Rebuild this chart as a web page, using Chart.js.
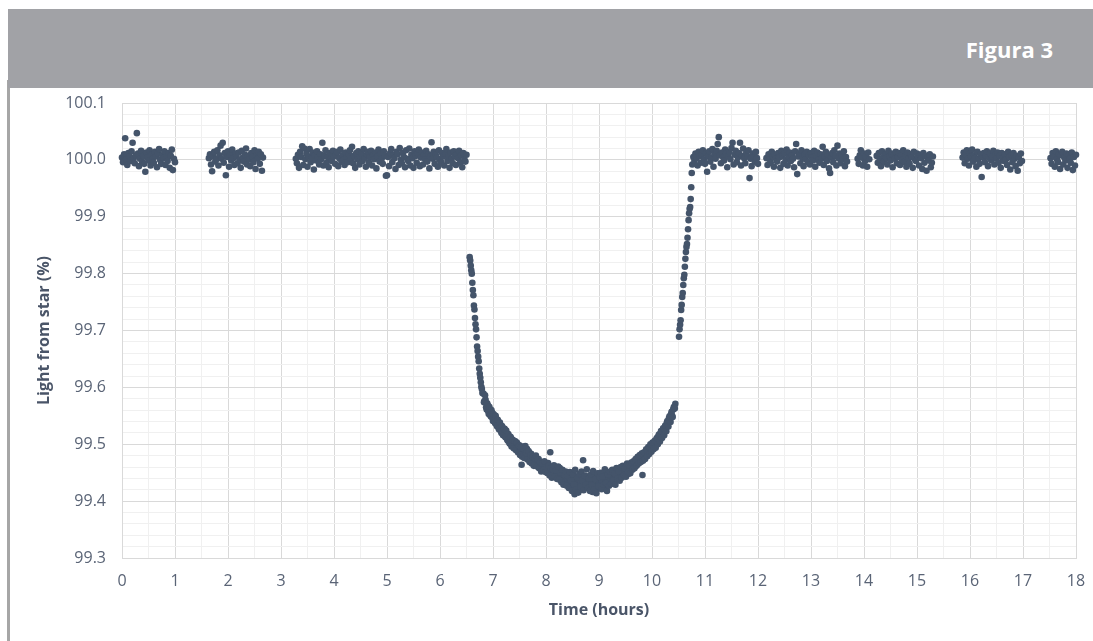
<!DOCTYPE html>
<html>
<head>
<meta charset="utf-8">
<script src="https://cdn.jsdelivr.net/npm/chart.js@4/dist/chart.umd.min.js"></script>
<style>
  html, body { margin: 0; padding: 0; background: #ffffff; }
  #wrap { position: relative; width: 1093px; height: 641px; overflow: hidden; }
  #band { position: absolute; left: 8px; top: 9px; width: 1085px; height: 79px; background: #a1a2a6; z-index: 2; }
  #band span { position: absolute; right: 40px; top: 29px; line-height: 22px; color: #ffffff;
               font-family: "Open Sans", Lato, sans-serif; font-weight: bold; font-size: 22px; }
  #rule { position: absolute; left: 7px; top: 80px; width: 3px; height: 561px; background: #a6a6a6; z-index: 1; }
  #chart { position: absolute; left: 0; top: 0; }
</style>
</head>
<body>
<div id="wrap">
  <div id="rule"></div>
  <div id="band"><span>Figura 3</span></div>
  <canvas id="chart" width="1093" height="641"></canvas>
</div>
<script>
// Tick labels
const xTickLabels = ['0','1','2','3','4','5','6','7','8','9','10','11','12','13','14','15','16','17','18'];
const yTickLabels = ['99.3','99.4','99.5','99.6','99.7','99.8','99.9','100.0','100.1'];

// Observing run 1
const run1Hours = [
  0.00,0.02,0.04,0.06,0.08,0.10,0.12,0.14,0.16,0.18,
  0.20,0.22,0.24,0.26,0.28,0.30,0.32,0.34,0.36,0.38,
  0.40,0.42,0.44,0.46,0.48,0.50,0.52,0.54,0.56,0.58,
  0.60,0.62,0.64,0.66,0.68,0.70,0.72,0.74,0.76,0.78,
  0.80,0.82,0.84,0.86,0.88,0.90,0.92,0.94,0.96,0.98,
  1.00];
const run1Light = [
  100.004,99.996,100.010,100.038,100.001,99.991,100.012,100.006,99.998,100.015,
  100.030,100.003,99.994,100.008,100.047,100.011,99.989,100.002,100.016,99.997,
  100.007,99.993,99.979,100.013,100.004,99.999,100.017,99.990,100.009,100.002,
  99.995,100.014,100.006,99.987,100.011,100.019,100.000,99.993,100.008,100.003,
  100.015,99.991,100.005,99.998,100.012,99.986,100.007,100.018,99.982,100.002,
  99.996];

// Observing run 2
const run2Hours = [
  1.64,1.66,1.68,1.70,1.72,1.74,1.76,1.78,1.80,1.82,
  1.84,1.86,1.88,1.90,1.92,1.94,1.96,1.98,2.00,2.02,
  2.04,2.06,2.08,2.10,2.12,2.14,2.16,2.18,2.20,2.22,
  2.24,2.26,2.28,2.30,2.32,2.34,2.36,2.38,2.40,2.42,
  2.44,2.46,2.48,2.50,2.52,2.54,2.56,2.58,2.60,2.62,
  2.64,2.66];
const run2Light = [
  100.003,100.010,99.992,99.980,100.006,100.014,99.997,100.001,100.017,99.990,
  100.008,100.025,100.002,100.030,99.995,100.012,99.973,100.005,100.015,99.988,
  100.009,99.999,100.018,100.003,99.991,100.011,100.006,99.994,100.013,100.000,
  99.986,100.016,100.004,99.997,100.009,100.020,99.992,100.007,100.001,99.989,
  100.012,100.005,99.996,100.017,99.984,100.008,100.002,100.014,99.993,100.010,
  99.981,100.004];

// Observing run 3 (up to the start of the transit)
const run3Hours = [
  3.28,3.30,3.32,3.34,3.36,3.38,3.40,3.42,3.44,3.46,
  3.48,3.50,3.52,3.54,3.56,3.58,3.60,3.62,3.64,3.66,
  3.68,3.70,3.72,3.74,3.76,3.78,3.80,3.82,3.84,3.86,
  3.88,3.90,3.92,3.94,3.96,3.98,4.00,4.02,4.04,4.06,
  4.08,4.10,4.12,4.14,4.16,4.18,4.20,4.22,4.24,4.26,
  4.28,4.30,4.32,4.34,4.36,4.38,4.40,4.42,4.44,4.46,
  4.48,4.50,4.52,4.54,4.56,4.58,4.60,4.62,4.64,4.66,
  4.68,4.70,4.72,4.74,4.76,4.78,4.80,4.82,4.84,4.86,
  4.88,4.90,4.92,4.94,4.96,4.98,5.00,5.02,5.04,5.06,
  5.08,5.10,5.12,5.14,5.16,5.18,5.20,5.22,5.24,5.26,
  5.28,5.30,5.32,5.34,5.36,5.38,5.40,5.42,5.44,5.46,
  5.48,5.50,5.52,5.54,5.56,5.58,5.60,5.62,5.64,5.66,
  5.68,5.70,5.72,5.74,5.76,5.78,5.80,5.82,5.84,5.86,
  5.88,5.90,5.92,5.94,5.96,5.98,6.00,6.02,6.04,6.06,
  6.08,6.10,6.12,6.14,6.16,6.18,6.20,6.22,6.24,6.26,
  6.28,6.30,6.32,6.34,6.36,6.38,6.40,6.42,6.44,6.46,
  6.48,6.50];
const run3Light = [
  100.002,99.994,100.009,99.986,100.014,100.005,100.024,99.991,100.020,100.001,
  100.011,99.988,100.006,100.019,99.996,100.003,100.013,99.983,100.008,99.999,
  100.015,100.004,99.992,100.010,100.001,100.030,99.990,100.007,100.017,99.995,
  100.005,99.987,100.012,100.002,99.998,100.016,100.006,99.993,100.009,100.014,
  99.989,100.003,100.018,99.997,100.008,100.000,99.991,100.013,100.004,99.996,
  100.010,100.017,100.002,100.023,99.994,100.007,99.986,100.012,100.001,100.015,
  99.992,100.006,100.011,99.998,100.019,100.003,99.988,100.009,100.014,99.995,
  100.004,100.016,99.990,100.008,100.001,100.013,99.985,100.006,100.018,99.997,
  100.011,100.002,99.993,100.015,100.007,99.972,99.973,100.005,99.989,100.012,
  100.019,99.996,100.008,100.003,99.984,100.014,100.010,99.991,100.021,100.000,
  99.994,100.012,100.005,99.987,100.017,100.002,99.998,100.020,99.990,100.009,
  100.003,99.986,100.015,100.007,99.995,100.011,100.018,99.989,100.004,100.013,
  99.992,100.008,100.001,100.016,99.997,100.010,99.985,100.006,100.031,100.002,
  100.014,99.993,100.009,100.004,99.988,100.017,100.000,99.996,100.012,100.006,
  99.990,100.011,100.019,99.998,100.005,99.986,100.013,100.002,99.994,100.015,
  100.007,99.991,100.010,100.003,100.016,99.995,100.008,99.987,100.012,100.001,
  99.997,100.009];

// Transit: ingress
const ingressHours = [
  6.56,6.57,6.58,6.59,6.60,6.61,6.62,6.63,6.64,6.65,
  6.66,6.67,6.68,6.69,6.70,6.71,6.72,6.73,6.74,6.75,
  6.76,6.77,6.78,6.79,6.80];
const ingressLight = [
  99.829,99.823,99.814,99.806,99.800,99.784,99.771,99.762,99.744,99.737,
  99.722,99.711,99.702,99.688,99.672,99.664,99.654,99.646,99.633,99.624,
  99.617,99.609,99.601,99.597,99.590];

// Transit: bottom of the dip, even exposures
const transitHours = [
  6.82,6.84,6.86,6.88,6.90,6.92,6.94,6.96,6.98,7.00,
  7.02,7.04,7.06,7.08,7.10,7.12,7.14,7.16,7.18,7.20,
  7.22,7.24,7.26,7.28,7.30,7.32,7.34,7.36,7.38,7.40,
  7.42,7.44,7.46,7.48,7.50,7.52,7.54,7.56,7.58,7.60,
  7.62,7.64,7.66,7.68,7.70,7.72,7.74,7.76,7.78,7.80,
  7.82,7.84,7.86,7.88,7.90,7.92,7.94,7.96,7.98,8.00,
  8.02,8.04,8.06,8.08,8.10,8.12,8.14,8.16,8.18,8.20,
  8.22,8.24,8.26,8.28,8.30,8.32,8.34,8.36,8.38,8.40,
  8.42,8.44,8.46,8.48,8.50,8.52,8.54,8.56,8.58,8.60,
  8.62,8.64,8.66,8.68,8.70,8.72,8.74,8.76,8.78,8.80,
  8.82,8.84,8.86,8.88,8.90,8.92,8.94,8.96,8.98,9.00,
  9.02,9.04,9.06,9.08,9.10,9.12,9.14,9.16,9.18,9.20,
  9.22,9.24,9.26,9.28,9.30,9.32,9.34,9.36,9.38,9.40,
  9.42,9.44,9.46,9.48,9.50,9.52,9.54,9.56,9.58,9.60,
  9.62,9.64,9.66,9.68,9.70,9.72,9.74,9.76,9.78,9.80,
  9.82,9.84,9.86,9.88,9.90,9.92,9.94,9.96,9.98,10.00,
  10.02,10.04,10.06,10.08,10.10,10.12,10.14,10.16,10.18,10.20,
  10.22,10.24,10.26,10.28,10.30,10.32,10.34,10.36,10.38,10.40,
  10.42,10.44];
const transitLight = [
  99.589,99.576,99.578,99.561,99.569,99.553,99.562,99.549,99.556,99.541,
  99.551,99.537,99.545,99.531,99.540,99.526,99.534,99.520,99.529,99.518,
  99.527,99.512,99.519,99.506,99.514,99.501,99.511,99.497,99.507,99.499,
  99.505,99.493,99.501,99.490,99.498,99.485,99.464,99.496,99.483,99.491,
  99.480,99.492,99.478,99.486,99.474,99.483,99.470,99.479,99.468,99.476,
  99.470,99.464,99.474,99.461,99.468,99.457,99.466,99.463,99.455,99.465,
  99.458,99.467,99.452,99.486,99.455,99.448,99.460,99.450,99.457,99.446,
  99.453,99.444,99.458,99.447,99.439,99.451,99.442,99.436,99.449,99.440,
  99.446,99.432,99.441,99.428,99.450,99.437,99.412,99.443,99.430,99.439,
  99.427,99.444,99.433,99.420,99.472,99.431,99.445,99.426,99.436,99.429,
  99.441,99.424,99.437,99.416,99.443,99.430,99.438,99.422,99.446,99.433,
  99.428,99.440,99.434,99.447,99.425,99.438,99.443,99.431,99.446,99.435,
  99.444,99.434,99.450,99.439,99.447,99.437,99.452,99.443,99.455,99.446,
  99.453,99.445,99.457,99.449,99.461,99.452,99.458,99.448,99.463,99.455,
  99.466,99.457,99.468,99.461,99.472,99.465,99.476,99.468,99.479,99.471,
  99.446,99.482,99.475,99.486,99.480,99.491,99.484,99.495,99.488,99.498,
  99.492,99.503,99.498,99.508,99.503,99.514,99.509,99.519,99.514,99.524,
  99.519,99.530,99.527,99.538,99.535,99.546,99.543,99.553,99.550,99.561,
  99.566,99.571];

// Transit: bottom of the dip, odd exposures
const transitOddHours = [
  6.83,6.85,6.87,6.89,6.91,6.93,6.95,6.97,6.99,7.01,
  7.03,7.05,7.07,7.09,7.11,7.13,7.15,7.17,7.19,7.21,
  7.23,7.25,7.27,7.29,7.31,7.33,7.35,7.37,7.39,7.41,
  7.43,7.45,7.47,7.49,7.51,7.53,7.55,7.57,7.59,7.61,
  7.63,7.65,7.67,7.69,7.71,7.73,7.75,7.77,7.79,7.81,
  7.83,7.85,7.87,7.89,7.91,7.93,7.95,7.97,7.99,8.01,
  8.03,8.05,8.07,8.09,8.11,8.13,8.15,8.17,8.19,8.21,
  8.23,8.25,8.27,8.29,8.31,8.33,8.35,8.37,8.39,8.41,
  8.43,8.45,8.47,8.49,8.51,8.53,8.55,8.57,8.59,8.61,
  8.63,8.65,8.67,8.69,8.71,8.73,8.75,8.77,8.79,8.81,
  8.83,8.85,8.87,8.89,8.91,8.93,8.95,8.97,8.99,9.01,
  9.03,9.05,9.07,9.09,9.11,9.13,9.15,9.17,9.19,9.21,
  9.23,9.25,9.27,9.29,9.31,9.33,9.35,9.37,9.39,9.41,
  9.43,9.45,9.47,9.49,9.51,9.53,9.55,9.57,9.59,9.61,
  9.63,9.65,9.67,9.69,9.71,9.73,9.75,9.77,9.79,9.81,
  9.83,9.85,9.87,9.89,9.91,9.93,9.95,9.97,9.99,10.01,
  10.03,10.05,10.07,10.09,10.11,10.13,10.15,10.17,10.19,10.21,
  10.23,10.25,10.27,10.29,10.31,10.33,10.35,10.37,10.39,10.41,
  10.43];
const transitOddLight = [
  99.574,99.586,99.565,99.572,99.558,99.566,99.551,99.560,99.546,99.553,
  99.539,99.550,99.533,99.543,99.527,99.538,99.523,99.532,99.516,99.527,
  99.513,99.524,99.508,99.518,99.502,99.513,99.496,99.508,99.493,99.505,
  99.490,99.503,99.486,99.497,99.481,99.494,99.478,99.492,99.476,99.497,
  99.484,99.473,99.488,99.469,99.481,99.466,99.478,99.462,99.475,99.480,
  99.461,99.473,99.458,99.469,99.452,99.466,99.455,99.470,99.451,99.460,
  99.449,99.462,99.445,99.458,99.441,99.455,99.463,99.443,99.454,99.439,
  99.461,99.438,99.450,99.433,99.455,99.429,99.446,99.452,99.427,99.444,
  99.423,99.451,99.436,99.418,99.447,99.429,99.455,99.421,99.441,99.415,
  99.448,99.425,99.452,99.437,99.419,99.444,99.429,99.456,99.423,99.440,
  99.418,99.447,99.428,99.453,99.421,99.439,99.414,99.449,99.426,99.442,
  99.450,99.421,99.443,99.429,99.456,99.432,99.418,99.447,99.427,99.452,
  99.430,99.455,99.436,99.449,99.429,99.458,99.440,99.452,99.436,99.460,
  99.441,99.462,99.446,99.458,99.443,99.466,99.451,99.463,99.449,99.468,
  99.455,99.470,99.458,99.474,99.462,99.478,99.466,99.481,99.469,99.484,
  99.471,99.486,99.474,99.491,99.479,99.495,99.483,99.500,99.487,99.503,
  99.491,99.506,99.494,99.511,99.500,99.517,99.505,99.523,99.511,99.528,
  99.516,99.533,99.523,99.541,99.531,99.549,99.539,99.557,99.548,99.565,
  99.563];

// Transit: egress
const egressHours = [
  10.51,10.52,10.53,10.54,10.55,10.56,10.57,10.58,10.59,10.60,
  10.61,10.62,10.63,10.64,10.65,10.66,10.67,10.68,10.69,10.70,
  10.71,10.72,10.73,10.74,10.75];
const egressLight = [
  99.689,99.702,99.710,99.718,99.736,99.745,99.759,99.766,99.780,99.792,
  99.798,99.812,99.826,99.838,99.847,99.852,99.863,99.878,99.894,99.906,
  99.914,99.917,99.931,99.952,99.977];

// Observing run 4 (after the transit)
const run4Hours = [
  10.76,10.78,10.80,10.82,10.84,10.86,10.88,10.90,10.92,10.94,
  10.96,10.98,11.00,11.02,11.04,11.06,11.08,11.10,11.12,11.14,
  11.16,11.18,11.20,11.22,11.24,11.26,11.28,11.30,11.32,11.34,
  11.36,11.38,11.40,11.42,11.44,11.46,11.48,11.50,11.52,11.54,
  11.56,11.58,11.60,11.62,11.64,11.66,11.68,11.70,11.72,11.74,
  11.76,11.78,11.80,11.82,11.84,11.86,11.88,11.90,11.92,11.94,
  11.96,11.98,12.00];
const run4Light = [
  99.992,100.005,99.998,100.011,100.003,99.990,100.014,100.007,99.995,100.009,
  100.017,100.001,99.993,100.012,99.979,100.006,100.015,99.997,100.004,100.019,
  99.988,100.010,100.002,100.016,100.028,100.040,100.008,99.994,100.013,100.005,
  99.999,100.018,100.011,99.987,100.006,100.014,100.001,100.021,100.030,99.992,
  100.009,100.016,99.996,100.004,100.012,100.030,99.990,100.007,100.020,100.003,
  99.994,100.013,100.006,100.017,99.968,100.002,99.989,100.011,100.005,99.997,
  100.014,100.003,99.993];

// Observing run 5
const run5Hours = [
  12.16,12.18,12.20,12.22,12.24,12.26,12.28,12.30,12.32,12.34,
  12.36,12.38,12.40,12.42,12.44,12.46,12.48,12.50,12.52,12.54,
  12.56,12.58,12.60,12.62,12.64,12.66,12.68,12.70,12.72,12.74,
  12.76,12.78,12.80,12.82,12.84,12.86,12.88,12.90,12.92,12.94,
  12.96,12.98,13.00,13.02,13.04,13.06,13.08,13.10,13.12,13.14,
  13.16,13.18,13.20,13.22,13.24,13.26,13.28,13.30,13.32,13.34,
  13.36,13.38,13.40,13.42,13.44,13.46,13.48,13.50,13.52,13.54,
  13.56,13.58,13.60,13.62,13.64,13.66,13.68];
const run5Light = [
  100.003,99.991,100.010,100.001,99.995,100.014,100.006,99.988,100.009,100.002,
  99.997,100.012,100.004,99.986,100.016,100.007,99.993,100.011,100.000,100.018,
  99.990,100.005,100.013,99.998,100.008,100.002,99.987,100.015,100.028,99.975,
  100.006,100.011,99.994,100.017,100.003,99.989,100.009,100.001,100.014,99.996,
  100.008,99.992,100.012,100.004,99.999,100.016,99.988,100.007,100.013,100.000,
  99.995,100.010,100.002,100.023,99.991,100.006,100.014,99.998,100.009,99.985,
  99.977,100.004,100.012,99.996,100.017,100.007,99.990,100.025,100.003,100.011,
  99.994,100.008,100.001,100.015,99.989,100.005,99.997];

// Observing run 6
const run6Hours = [
  13.88,13.90,13.92,13.94,13.96,13.98,14.00,14.02,14.04,14.06,
  14.08,14.10,
  14.24,14.26,14.28,14.30,14.32,14.34,14.36,14.38,14.40,14.42,
  14.44,14.46,14.48,14.50,14.52,14.54,14.56,14.58,14.60,14.62,
  14.64,14.66,14.68,14.70,14.72,14.74,14.76,14.78,14.80,14.82,
  14.84,14.86,14.88,14.90,14.92,14.94,14.96,14.98,15.00,15.02,
  15.04,15.06,15.08,15.10,15.12,15.14,15.16,15.18,15.20,15.22,
  15.24,15.26,15.28,15.30];
const run6Light = [
  100.002,99.993,100.008,100.017,100.004,99.990,100.011,99.998,100.006,99.988,
  100.013,100.001,
  100.007,99.995,100.012,100.001,99.989,100.015,100.004,99.997,100.010,100.003,
  99.992,100.016,100.006,99.999,100.011,99.987,100.008,100.002,100.014,99.994,
  100.005,100.012,99.991,100.009,100.000,100.017,99.996,100.007,99.988,100.013,
  100.002,99.993,100.010,100.005,99.986,100.014,100.001,99.998,100.011,100.006,
  99.990,100.009,100.003,99.984,100.012,99.995,100.007,99.981,100.004,99.999,
  100.010,99.987,99.995,100.006];

// Observing run 7
const run7Hours = [
  15.86,15.88,15.90,15.92,15.94,15.96,15.98,16.00,16.02,16.04,
  16.06,16.08,16.10,16.12,16.14,16.16,16.18,16.20,16.22,16.24,
  16.26,16.28,16.30,16.32,16.34,16.36,16.38,16.40,16.42,16.44,
  16.46,16.48,16.50,16.52,16.54,16.56,16.58,16.60,16.62,16.64,
  16.66,16.68,16.70,16.72,16.74,16.76,16.78,16.80,16.82,16.84,
  16.86,16.88,16.90,16.92,16.94,16.96,16.98];
const run7Light = [
  100.004,100.013,99.994,100.009,100.017,100.002,99.990,100.011,100.006,100.018,
  99.997,100.008,100.003,99.988,100.014,100.001,99.993,100.010,99.970,100.005,
  100.012,99.996,100.007,100.015,99.989,100.004,100.011,99.999,100.006,100.016,
  99.992,100.009,100.002,100.013,99.995,100.007,99.986,100.012,100.003,99.998,
  100.010,100.001,99.991,100.014,100.005,99.983,100.008,99.996,100.012,100.002,
  99.989,100.007,99.981,100.004,99.994,100.011,99.998];

// Observing run 8
const run8Hours = [
  17.52,17.54,17.56,17.58,17.60,17.62,17.64,17.66,17.68,17.70,
  17.72,17.74,17.76,17.78,17.80,17.82,17.84,17.86,17.88,17.90,
  17.92,17.94,17.96,17.98,18.00];
const run8Light = [
  100.003,99.993,100.012,100.006,99.988,100.015,100.001,99.996,100.010,99.984,
  100.008,100.014,99.992,100.004,99.999,100.011,99.986,100.007,100.002,99.995,
  100.013,99.982,100.005,99.990,100.009];

const series = [
  ['run 1', run1Hours, run1Light],
  ['run 2', run2Hours, run2Light],
  ['run 3', run3Hours, run3Light],
  ['ingress', ingressHours, ingressLight],
  ['transit', transitHours, transitLight],
  ['transit odd', transitOddHours, transitOddLight],
  ['egress', egressHours, egressLight],
  ['run 4', run4Hours, run4Light],
  ['run 5', run5Hours, run5Light],
  ['run 6', run6Hours, run6Light],
  ['run 7', run7Hours, run7Light],
  ['run 8', run8Hours, run8Light]
];

const points = [];
series.forEach(([name, hours, light]) => {
  if (hours.length !== light.length) {
    throw new Error(name + ': ' + hours.length + ' times vs ' + light.length + ' values');
  }
  hours.forEach((h, i) => points.push({ x: h, y: light[i] }));
});

const markColor = '#44546a';
const tickColor = '#5a6476';
const titleColor = '#4a5568';
const majorGrid = '#d9d9d9';
const minorGrid = '#f0f0f0';
const fontFamily = '"Open Sans", Lato, sans-serif';

const yBase = Math.round(parseFloat(yTickLabels[0]) * 50);
const isMajorX = v => Math.round(v * 2) % 2 === 0;
const isMajorY = v => (Math.round(v * 50) - yBase) % 5 === 0;

new Chart(document.getElementById('chart'), {
  type: 'scatter',
  data: {
    datasets: [{
      data: points,
      backgroundColor: markColor,
      borderWidth: 0,
      pointRadius: 3.3,
      pointHoverRadius: 3.3,
      clip: false
    }]
  },
  options: {
    responsive: false,
    animation: false,
    devicePixelRatio: 1,
    layout: { padding: { top: 103, right: 17, bottom: 0, left: 0 } },
    plugins: { legend: { display: false }, tooltip: { enabled: false } },
    scales: {
      x: {
        type: 'linear',
        min: 0,
        max: 18,
        afterFit: s => { s.height = 83; s.paddingRight = 0; s.paddingLeft = 0; },
        ticks: {
          stepSize: 0.5,
          autoSkip: false,
          maxRotation: 0,
          padding: 14,
          color: tickColor,
          font: { family: fontFamily, size: 16 },
          callback: v => isMajorX(v) ? xTickLabels[Math.round(v)] : ''
        },
        grid: {
          drawTicks: false,
          color: c => (c.tick && !isMajorX(c.tick.value)) ? minorGrid : majorGrid
        },
        border: { color: majorGrid },
        title: {
          display: true,
          text: 'Time (hours)',
          color: titleColor,
          font: { family: fontFamily, size: 16, weight: 'bold' },
          padding: { top: 0, bottom: 21 }
        }
      },
      y: {
        type: 'linear',
        min: 99.3,
        max: 100.1,
        afterFit: s => { s.width = 122; },
        ticks: {
          stepSize: 0.02,
          autoSkip: false,
          padding: 16,
          color: tickColor,
          font: { family: fontFamily, size: 16 },
          callback: v => isMajorY(v) ? yTickLabels[(Math.round(v * 50) - yBase) / 5] : ''
        },
        grid: {
          drawTicks: false,
          color: c => (c.tick && !isMajorY(c.tick.value)) ? minorGrid : majorGrid
        },
        border: { color: majorGrid },
        title: {
          display: true,
          text: 'Light from star (%)',
          color: titleColor,
          font: { family: fontFamily, size: 16, weight: 'bold' },
          padding: { top: 35, bottom: 0 }
        }
      }
    }
  }
});
</script>
</body>
</html>
